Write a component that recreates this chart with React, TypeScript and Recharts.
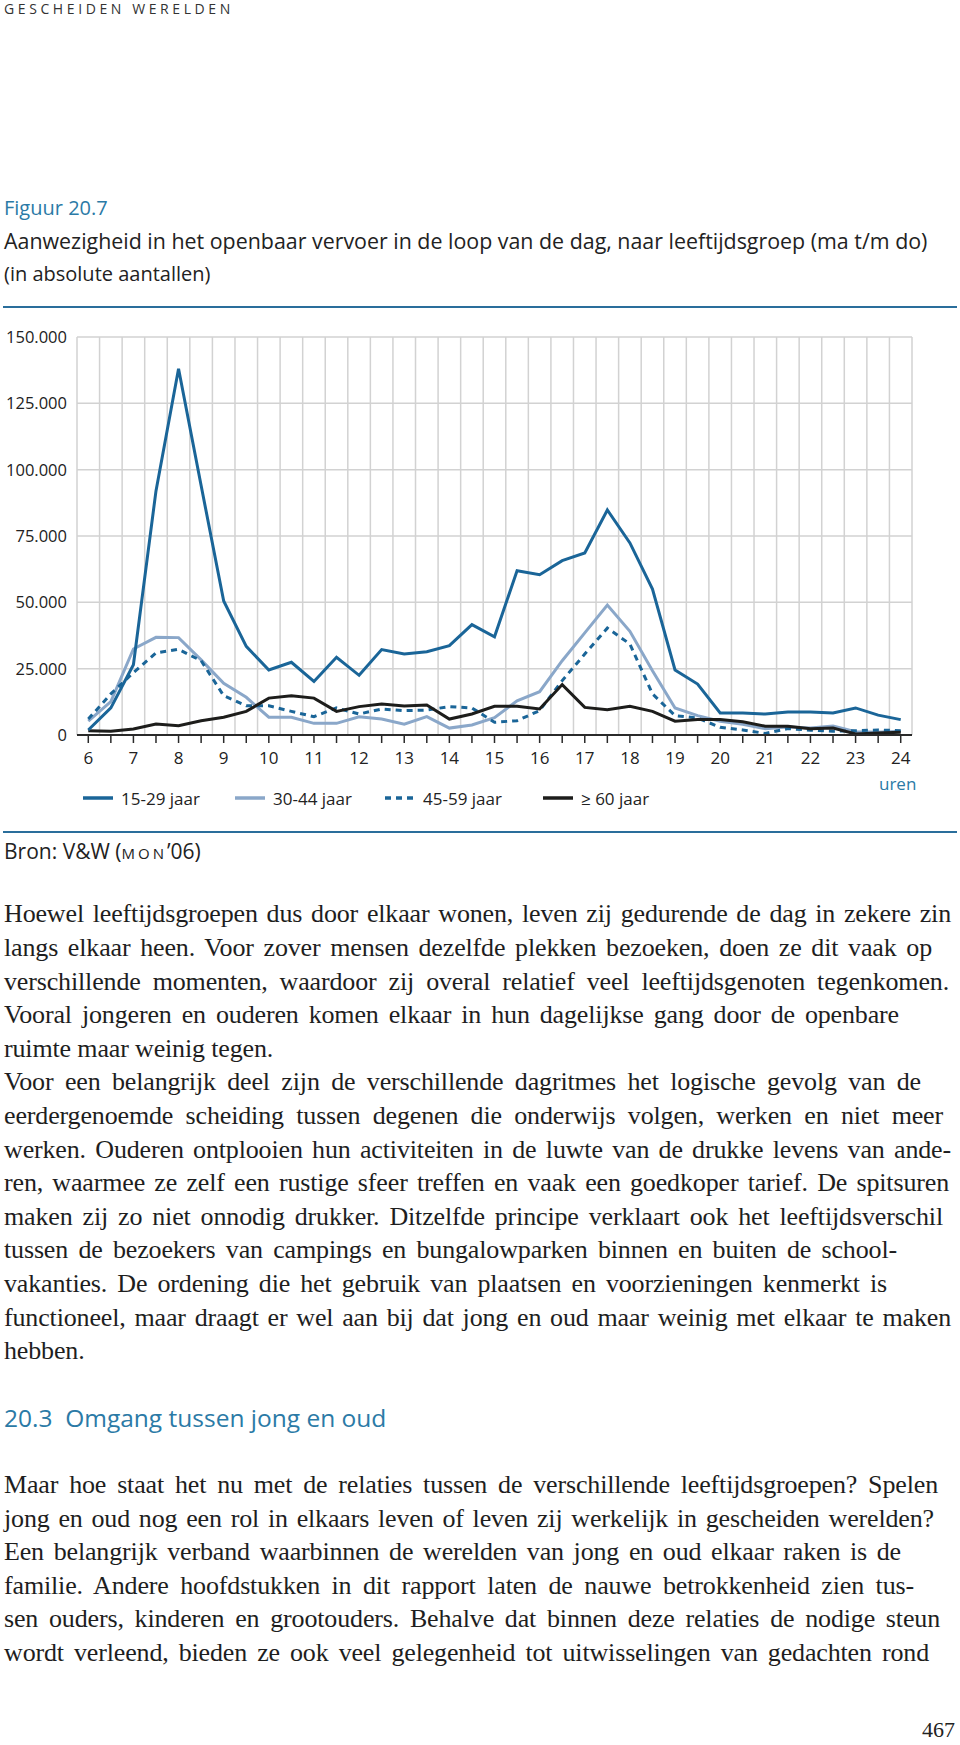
import { LineChart, Line, XAxis, YAxis, CartesianGrid } from 'recharts'

// half-hour measuring points, 6:00 - 24:00
const hours = [6, 6.5, 7, 7.5, 8, 8.5, 9, 9.5, 10, 10.5, 11, 11.5, 12, 12.5, 13, 13.5, 14, 14.5, 15, 15.5, 16, 16.5, 17, 17.5, 18, 18.5, 19, 19.5, 20, 20.5, 21, 21.5, 22, 22.5, 23, 23.5, 24]
const jaar1529 = [1900, 10200, 26500, 92000, 138000, 94000, 50500, 33400, 24500, 27400, 20200, 29300, 22500, 32200, 30500, 31400, 33700, 41600, 37000, 61900, 60400, 65700, 68600, 84800, 72400, 55000, 24500, 19200, 8300, 8300, 7900, 8700, 8700, 8300, 10200, 7500, 5800]
const jaar3044 = [5200, 12600, 32400, 36800, 36700, 28300, 19500, 14200, 6700, 6700, 4400, 4400, 6900, 6000, 4100, 6900, 2600, 3800, 6500, 12900, 16300, 28000, 38500, 49000, 39100, 24200, 10200, 7300, 5200, 4000, 2400, 3000, 2600, 3400, 1200, 1000, 1400]
const jaar4559 = [6000, 15500, 23500, 30900, 32300, 28000, 14800, 11000, 11000, 8900, 6900, 10200, 7900, 9800, 9200, 9400, 10700, 10200, 4800, 5400, 9200, 20500, 30500, 40300, 34300, 15500, 7300, 6400, 2900, 1900, 600, 2400, 1800, 1400, 1600, 1900, 1600]
const jaar60 = [1600, 1400, 2300, 4100, 3500, 5400, 6700, 8900, 13900, 14800, 13900, 8900, 10700, 11700, 10900, 11300, 6000, 7900, 10800, 10800, 9800, 19000, 10400, 9500, 10800, 8900, 5200, 5800, 5800, 5000, 3300, 3300, 2400, 2600, 400, 800, 1000]

const yTicks = [0, 25000, 50000, 75000, 100000, 125000, 150000]
// vertical grid sits between the half-hour ticks
const gridHours = [5.75, 6.25, 6.75, 7.25, 7.75, 8.25, 8.75, 9.25, 9.75, 10.25, 10.75, 11.25, 11.75, 12.25, 12.75, 13.25, 13.75, 14.25, 14.75, 15.25, 15.75, 16.25, 16.75, 17.25, 17.75, 18.25, 18.75, 19.25, 19.75, 20.25, 20.75, 21.25, 21.75, 22.25, 22.75, 23.25, 23.75, 24.25]

const series = [
  { key: 'j3044', name: '30-44 jaar', color: '#8aa7c9', dash: undefined },
  { key: 'j4559', name: '45-59 jaar', color: '#1a6598', dash: '6 5' },
  { key: 'j60', name: '≥ 60 jaar', color: '#1d1d1b', dash: undefined },
  { key: 'j1529', name: '15-29 jaar', color: '#1a6598', dash: undefined },
]
const legendOrder = ['j1529', 'j3044', 'j4559', 'j60']
const legendX = [83, 235, 385, 543]

const para1 = [
  'Hoewel leeftijdsgroepen dus door elkaar wonen, leven zij gedurende de dag in zekere zin',
  'langs elkaar heen. Voor zover mensen dezelfde plekken bezoeken, doen ze dit vaak op',
  'verschillende momenten, waardoor zij overal relatief veel leeftijdsgenoten tegenkomen.',
  'Vooral jongeren en ouderen komen elkaar in hun dagelijkse gang door de openbare',
  'ruimte maar weinig tegen.',
  'Voor een belangrijk deel zijn de verschillende dagritmes het logische gevolg van de',
  'eerdergenoemde scheiding tussen degenen die onderwijs volgen, werken en niet meer',
  'werken. Ouderen ontplooien hun activiteiten in de luwte van de drukke levens van ande-',
  'ren, waarmee ze zelf een rustige sfeer treffen en vaak een goedkoper tarief. De spitsuren',
  'maken zij zo niet onnodig drukker. Ditzelfde principe verklaart ook het leeftijdsverschil',
  'tussen de bezoekers van campings en bungalowparken binnen en buiten de school-',
  'vakanties. De ordening die het gebruik van plaatsen en voorzieningen kenmerkt is',
  'functioneel, maar draagt er wel aan bij dat jong en oud maar weinig met elkaar te maken',
  'hebben.',
]
const para1Ends = [951, 932, 949, 899, 0, 921, 943, 951, 949, 943, 897, 887, 951, 0]
const para2 = [
  'Maar hoe staat het nu met de relaties tussen de verschillende leeftijdsgroepen? Spelen',
  'jong en oud nog een rol in elkaars leven of leven zij werkelijk in gescheiden werelden?',
  'Een belangrijk verband waarbinnen de werelden van jong en oud elkaar raken is de',
  'familie. Andere hoofdstukken in dit rapport laten de nauwe betrokkenheid zien tus-',
  'sen ouders, kinderen en grootouders. Behalve dat binnen deze relaties de nodige steun',
  'wordt verleend, bieden ze ook veel gelegenheid tot uitwisselingen van gedachten rond',
]
const para2Ends = [938, 934, 901, 914, 940, 929]

const SANS = "'Open Sans', 'DejaVu Sans', sans-serif"
const SERIF = "'Liberation Serif', 'DejaVu Serif', serif"
const BLUE = '#2b7aa6'
const RULE = '#2a6e9b'

function Txt({ x, y, size, color = '#222', font = SANS, children, style }: any) {
  return (
    <div style={{ position: 'absolute', left: x, top: y - size * 0.65, fontSize: size, lineHeight: `${size * 1.3}px`, color, fontFamily: font, whiteSpace: 'nowrap', ...style }}>
      {children}
    </div>
  )
}

function BodyLines({ lines, ends, top }: { lines: string[]; ends: number[]; top: number }) {
  return (
    <>
      {lines.map((l, i) => (
        <div key={i} style={{
          position: 'absolute', left: 4, top: top + i * 33.6 - 17, width: ends[i] ? ends[i] - 4 : undefined,
          fontFamily: SERIF, fontSize: 26, letterSpacing: -0.15, lineHeight: '34px', color: '#1e1e1e', whiteSpace: 'nowrap',
          textAlign: ends[i] ? 'justify' : 'left', textAlignLast: ends[i] ? 'justify' : 'left',
        }}>{l}</div>
      ))}
    </>
  )
}

export default function App() {
  const data = hours.map((h, i) => ({
    hour: h, j1529: jaar1529[i], j3044: jaar3044[i], j4559: jaar4559[i], j60: jaar60[i],
  }))
  const byKey = Object.fromEntries(series.map(s => [s.key, s]))

  return (
    <div style={{ position: 'absolute', left: 0, top: 0, width: 960, height: 1745, background: '#fff', overflow: 'hidden' }}>
      <Txt x={4} y={9} size={14} color="#333" style={{ letterSpacing: 3.6 }}>GESCHEIDEN WERELDEN</Txt>

      <Txt x={4} y={208} size={20} color={BLUE}>Figuur 20.7</Txt>
      <Txt x={4} y={241} size={21.4} color="#222">Aanwezigheid in het openbaar vervoer in de loop van de dag, naar leeftijdsgroep (ma t/m do)</Txt>
      <Txt x={4} y={274} size={20} color="#222">(in absolute aantallen)</Txt>
      <div style={{ position: 'absolute', left: 3, top: 306, width: 954, height: 2, background: RULE }} />

      <div style={{ position: 'absolute', left: 0, top: 320 }}>
        <LineChart width={960} height={500} data={data} margin={{ top: 17, right: 48, bottom: 25, left: 0 }}>
          <CartesianGrid stroke="#d2d2d2" strokeWidth={1.5} verticalValues={gridHours} horizontalValues={yTicks} />
          <XAxis
            type="number" dataKey="hour" domain={[5.75, 24.25]} ticks={hours} interval={0} height={60}
            tickFormatter={(h: number) => (Number.isInteger(h) ? String(h) : '')}
            axisLine={{ stroke: '#2a2a2a', strokeWidth: 2 }} tickLine={{ stroke: '#2a2a2a', strokeWidth: 1.5 }}
            tickSize={8} tickMargin={9}
            tick={{ fill: '#222', fontSize: 17, fontFamily: SANS }}
          />
          <YAxis
            type="number" domain={[0, 150000]} ticks={yTicks} width={77} axisLine={false} tickLine={false}
            tickSize={0} tickMargin={10}
            tickFormatter={(v: number) => (v === 0 ? '0' : `${v / 1000}.000`)}
            tick={{ fill: '#222', fontSize: 16.5, fontFamily: SANS }}
          />
          {series.map(s => (
            <Line key={s.key} type="linear" dataKey={s.key} name={s.name} stroke={s.color} strokeWidth={3}
              strokeDasharray={s.dash} dot={false} activeDot={false} isAnimationActive={false} />
          ))}
        </LineChart>
      </div>

      <Txt x={879} y={784} size={17} color={BLUE}>uren</Txt>

      {legendOrder.map((k, i) => {
        const s = byKey[k]
        return (
          <div key={k} style={{ position: 'absolute', left: legendX[i], top: 786, height: 24, display: 'flex', alignItems: 'center' }}>
            <svg width={30} height={6} style={{ display: 'block' }}>
              <line x1={0} y1={3} x2={30} y2={3} stroke={s.color} strokeWidth={3.5} strokeDasharray={s.dash ? '6 5' : undefined} />
            </svg>
            <span style={{ marginLeft: 8, fontFamily: SANS, fontSize: 17, color: '#222', whiteSpace: 'nowrap' }}>{s.name}</span>
          </div>
        )
      })}

      <div style={{ position: 'absolute', left: 3, top: 831, width: 954, height: 2, background: RULE }} />
      <Txt x={4} y={852} size={21} color="#222">
        Bron: V&amp;W (<span style={{ fontVariant: 'small-caps', letterSpacing: 3 }}>mon</span>’06)
      </Txt>

      <BodyLines lines={para1.slice(0, 5)} ends={para1Ends.slice(0, 5)} top={914.4} />
      <BodyLines lines={para1.slice(5)} ends={para1Ends.slice(5)} top={914.4 + 5 * 33.6} />

      <Txt x={4} y={1418} size={24.5} color={BLUE}>20.3&nbsp;&nbsp;Omgang tussen jong en oud</Txt>

      <BodyLines lines={para2} ends={para2Ends} top={1485} />

      <div style={{ position: 'absolute', right: 5, top: 1716, fontFamily: SERIF, fontSize: 22, lineHeight: '28px', color: '#222' }}>467</div>
    </div>
  )
}
